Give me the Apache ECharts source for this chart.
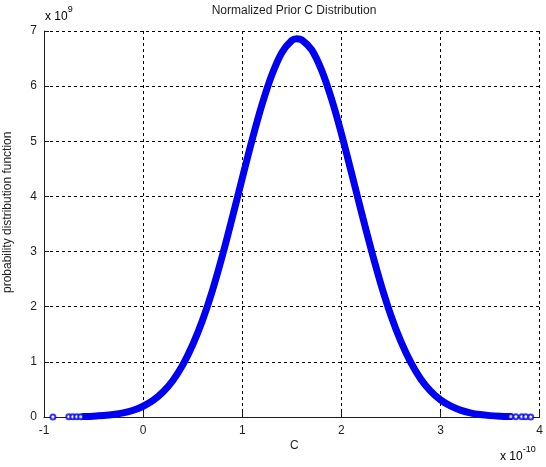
<!DOCTYPE html>
<html>
<head>
<meta charset="utf-8">
<style>
  html, body { margin: 0; padding: 0; background: #fff; }
  #chart { width: 546px; height: 467px; }
</style>
<script src="https://cdn.jsdelivr.net/npm/echarts@6/dist/echarts.min.js"></script>
</head>
<body>
<div id="chart"></div>
<script>
// C values in units of 1e-10, density values in units of 1e9
const xTicks = [-1, 0, 1, 2, 3, 4];
const yTicks = [0, 1, 2, 3, 4, 5, 6, 7];

// densely sampled body of the distribution
const bodyC = [-0.6, -0.5, -0.4, -0.3, -0.2, -0.1, 0.0, 0.1, 0.2, 0.3, 0.4, 0.5, 0.6, 0.7, 0.8, 0.9,
  1.0, 1.1, 1.2, 1.3, 1.4, 1.5, 1.55, 1.6, 1.7, 1.8, 1.9, 2.0, 2.1, 2.2, 2.3, 2.4, 2.5, 2.6, 2.7, 2.8, 2.9,
  3.0, 3.1, 3.2, 3.3, 3.4, 3.5, 3.6, 3.7];
const bodyPdf = [0.008, 0.014, 0.026, 0.045, 0.075, 0.123, 0.195, 0.300, 0.452, 0.662, 0.945, 1.31, 1.76, 2.30, 2.93, 3.62,
  4.33, 5.03, 5.67, 6.21, 6.61, 6.83, 6.86, 6.84, 6.66, 6.29, 5.77, 5.14, 4.44, 3.73, 3.04, 2.40, 1.84, 1.37, 0.99, 0.69, 0.47,
  0.31, 0.20, 0.125, 0.076, 0.044, 0.025, 0.014, 0.008];

// sparse samples in the tails
const leftTailC = [-0.91, -0.75, -0.71, -0.67, -0.63];
const leftTailPdf = [0.001, 0.003, 0.004, 0.005, 0.006];
const rightTailC = [3.71, 3.76, 3.82, 3.86, 3.91];
const rightTailPdf = [0.007, 0.005, 0.004, 0.003, 0.002];

const BLUE = '#0000f2';
const INK = '#1e1e1e';
const FONT = '"Liberation Sans", Arial, sans-serif';

const zip = (xs, ys) => xs.map((x, i) => [x, ys[i]]);
const bodyPts = zip(bodyC, bodyPdf);
const tailPts = zip(leftTailC, leftTailPdf).concat(zip(rightTailC, rightTailPdf));

const chart = echarts.init(document.getElementById('chart'));

const gridLine = { show: true, lineStyle: { color: '#000', width: 1, type: [3, 3] } };
const expRich = {
  b: { fontSize: 12, fontFamily: FONT, color: INK, verticalAlign: 'bottom', padding: [6, 0, 0, 0] },
  s: { fontSize: 9, fontFamily: FONT, color: INK, verticalAlign: 'top' }
};

chart.setOption({
  animation: false,
  backgroundColor: '#fff',
  grid: { left: 44, right: 2, top: 31, bottom: 50 },
  xAxis: {
    type: 'value',
    min: xTicks[0], max: xTicks[xTicks.length - 1], interval: 1,
    axisLine: { show: true, onZero: false, lineStyle: { color: INK, width: 1 } },
    axisTick: { show: true, inside: true, length: 5, lineStyle: { color: INK } },
    axisLabel: { color: INK, fontFamily: FONT, fontSize: 12, margin: 8, showMaxLabel: true, showMinLabel: true },
    splitLine: gridLine
  },
  yAxis: {
    type: 'value',
    min: yTicks[0], max: yTicks[yTicks.length - 1], interval: 1,
    axisLine: { show: true, onZero: false, lineStyle: { color: INK, width: 1 } },
    axisTick: { show: true, inside: true, length: 5, lineStyle: { color: INK } },
    axisLabel: { color: INK, fontFamily: FONT, fontSize: 12, margin: 7 },
    splitLine: gridLine
  },
  graphic: [
    { type: 'text', x: 294, y: 5, style: {
        text: 'Normalized Prior C Distribution', font: '12px ' + FONT, fill: INK, align: 'center' } },
    { type: 'text', x: 45, y: 5, style: { text: '{b|x 10}{s|9}', rich: expRich } },
    { type: 'text', x: 500, y: 445, style: { text: '{b|x 10}{s|-10}', rich: expRich } },
    { type: 'text', x: 290, y: 440, style: { text: 'C', font: '12px ' + FONT, fill: INK } },
    { type: 'text', x: 2, y: 293, rotation: Math.PI / 2, style: {
        text: 'probability distribution function', font: '12px ' + FONT, fill: INK } }
  ],
  series: [
    {
      type: 'line',
      data: bodyPts,
      smooth: 0.3,
      showSymbol: false,
      lineStyle: { color: BLUE, width: 7, cap: 'round', join: 'round' },
      z: 3
    },
    {
      type: 'scatter',
      data: tailPts,
      symbol: 'emptyCircle',
      symbolSize: 5,
      itemStyle: { color: BLUE, borderWidth: 1.6 },
      z: 10,
      zlevel: 1
    }
  ]
});
</script>
</body>
</html>
